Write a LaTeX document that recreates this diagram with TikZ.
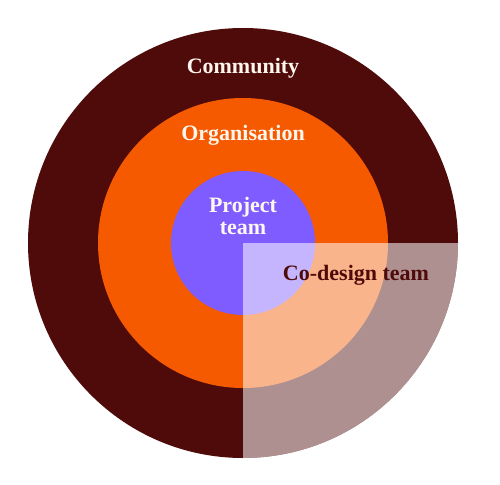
\documentclass[tikz,border=0pt]{standalone}
\usepackage{fontspec}
\setmainfont{Liberation Serif}
\definecolor{maroon}{HTML}{4F0A0A}
\definecolor{orng}{HTML}{F55A00}
\definecolor{purp}{HTML}{7F5CFF}
\definecolor{cream}{HTML}{FFF6EE}
\begin{document}
\begin{tikzpicture}[x=1pt,y=-1pt,
  lbl/.style={font=\bfseries\fontsize{22}{22}\selectfont, text=cream, align=center, inner sep=0pt},
  dlbl/.style={lbl, text=maroon}]
\useasboundingbox (0,0) rectangle (500,484);
\fill[white] (0,0) rectangle (500,484);
\coordinate (c) at (243,243);
\fill[maroon] (c) circle[radius=215];
\fill[orng] (c) circle[radius=145];
\fill[purp] (c) circle[radius=72];
\fill[white, fill opacity=0.55] (c) -- (458,243) arc[start angle=0, end angle=90, radius=215] -- cycle;
\node[lbl] (comm) at (243,68) {Community};
\node[lbl] (org) at (243,135) {Organisation};
\node[lbl] (proj) at (243,216) {Project\\team};
\node[dlbl] (codes) at (356,275) {Co-design team};
\end{tikzpicture}
\end{document}
